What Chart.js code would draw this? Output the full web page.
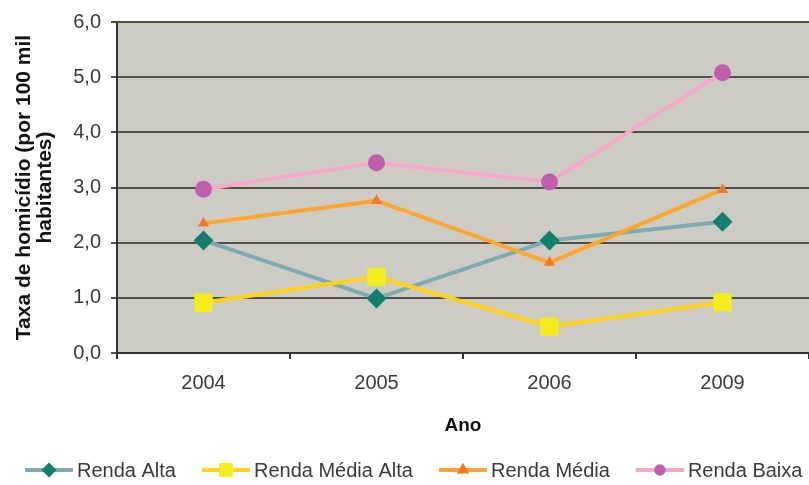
<!DOCTYPE html>
<html>
<head>
<meta charset="utf-8">
<script src="https://cdn.jsdelivr.net/npm/chart.js@4"></script>
<style>
  html,body{margin:0;padding:0;background:#fff;}
  #wrap{width:809px;height:485px;}
</style>
</head>
<body>
<div id="wrap"><canvas id="c" width="809" height="485"></canvas></div>
<script>
// ===================== DADOS =====================
const anos=['2004','2005','2006','2009'];
const series=['Renda Alta','Renda Média Alta','Renda Média','Renda Baixa'];
const rendaAlta=[2.04,0.99,2.04,2.38];
const rendaMediaAlta=[0.91,1.38,0.48,0.92];
const rendaMedia=[2.35,2.76,1.64,2.96];
const rendaBaixa=[2.97,3.45,3.10,5.08];
const yTicks=[0,1,2,3,4,5,6];

const FONT='"Liberation Sans", Arial, sans-serif';
const TXT='#3a3a3a';

// estilos por série: linha, marcador, forma, raio
const estilos=[
  {line:'#7eabb1',mark:'#137e6c',shape:'rectRot',r:10},
  {line:'#ffd21a',mark:'#f4ec1c',shape:'rect',r:13},
  {line:'#ffa52c',mark:'#f07922',shape:'triangle',r:6.5},
  {line:'#f6a8cb',mark:'#bf5fab',shape:'circle',r:8.5},
];
const valores=[rendaAlta,rendaMediaAlta,rendaMedia,rendaBaixa];

// marcador (mesma forma do gráfico, em tamanho menor)
function drawMarker(g,st,cx,cy){
  const r=st.r*0.75;
  g.fillStyle=st.mark;
  g.beginPath();
  if(st.shape==='rectRot'){g.moveTo(cx,cy-r);g.lineTo(cx+r,cy);g.lineTo(cx,cy+r);g.lineTo(cx-r,cy);}
  else if(st.shape==='rect'){const s=r*Math.SQRT1_2;g.rect(cx-s,cy-s,2*s,2*s);}
  else if(st.shape==='triangle'){const rr=st.r*1.1;g.moveTo(cx,cy-rr);g.lineTo(cx+rr*0.87,cy+rr*0.5);g.lineTo(cx-rr*0.87,cy+rr*0.5);}
  else{g.arc(cx,cy,r*0.9,0,Math.PI*2);}
  g.closePath();g.fill();
}

const plotBg={id:'plotBg',beforeDraw(chart){
  const {ctx,chartArea:a}=chart;
  ctx.save();ctx.fillStyle='#cdccc4';ctx.fillRect(a.left,a.top,a.right-a.left,a.bottom-a.top);ctx.restore();
}};

// legenda no rodapé: linha + marcador + texto, estilo Excel
const legendaExcel={id:'legendaExcel',afterDraw(chart){
  const ctx=chart.ctx;const y=470;let x=25;
  ctx.save();
  ctx.font='20px '+FONT;ctx.textBaseline='middle';ctx.fillStyle=TXT;
  chart.data.datasets.forEach((ds,i)=>{
    const st=estilos[i];
    ctx.strokeStyle=st.line;ctx.lineWidth=4;
    ctx.beginPath();ctx.moveTo(x,y);ctx.lineTo(x+48,y);ctx.stroke();
    drawMarker(ctx,st,x+24,y);
    ctx.fillStyle=TXT;
    ctx.fillText(ds.label,x+52,y+1);
    x+=52+ctx.measureText(ds.label).width+26;
  });
  ctx.restore();
}};

const datasets=series.map((nome,i)=>({
  label:nome,data:valores[i],
  borderColor:estilos[i].line,backgroundColor:estilos[i].mark,
  pointBackgroundColor:estilos[i].mark,pointBorderWidth:0,
  pointStyle:estilos[i].shape,pointRadius:estilos[i].r,
  borderWidth:4,tension:0,order:4-i
}));

new Chart(document.getElementById('c').getContext('2d'),{
  type:'line',
  data:{labels:anos,datasets},
  plugins:[plotBg,legendaExcel],
  options:{
    responsive:false,animation:false,
    layout:{autoPadding:false,padding:{top:22,right:0,bottom:39,left:0}},
    plugins:{tooltip:{enabled:false},legend:{display:false}},
    scales:{
      x:{offset:true,
        grid:{offset:true,drawOnChartArea:false,color:'#333',tickLength:6,lineWidth:2},
        border:{color:'#333',width:2},
        ticks:{color:TXT,font:{family:FONT,size:20},padding:12},
        title:{display:true,text:'Ano',color:'#111',font:{family:FONT,size:19,weight:'bold'},padding:{top:6,bottom:9}},
        afterFit:s=>{s.height=93;}
      },
      y:{min:0,max:6,
        afterBuildTicks:s=>{s.ticks=yTicks.map(v=>({value:v}));},
        grid:{color:'#505046',lineWidth:2,tickLength:6},
        border:{color:'#333',width:2},
        ticks:{color:TXT,font:{family:FONT,size:20},padding:10,callback:v=>v.toFixed(1).replace('.',',')},
        title:{display:true,text:['Taxa de homicídio (por 100 mil','habitantes)'],color:'#111',
          font:{family:FONT,size:21,weight:'bold',lineHeight:1.0},padding:{top:14,bottom:4}},
        afterFit:s=>{s.width=117;}
      }
    }
  }
});
</script>
</body>
</html>
